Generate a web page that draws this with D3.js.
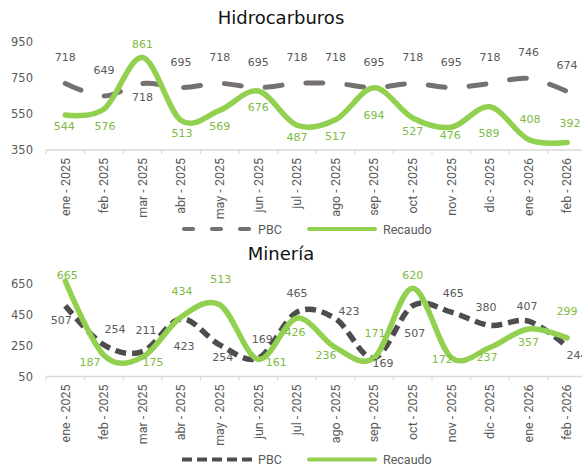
<!DOCTYPE html>
<html><head><meta charset="utf-8">
<script src="https://cdn.jsdelivr.net/npm/d3@7"></script>
<style>
html,body{margin:0;padding:0;background:#fff;}
svg{display:block;}
</style></head>
<body><svg id="chart" width="582" height="467"></svg>
<script>
// ---- data ----
const months = ["ene - 2025","feb - 2025","mar - 2025","abr - 2025","may - 2025","jun - 2025","jul - 2025","ago - 2025","sep - 2025","oct - 2025","nov - 2025","dic - 2025","ene - 2026","feb - 2026"];
const hidroPBC = [718, 649, 718, 695, 718, 695, 718, 718, 695, 718, 695, 718, 746, 674];
const hidroRec = [544, 576, 861, 513, 569, 676, 487, 517, 694, 527, 476, 589, 408, 392];
const minPBC   = [507, 254, 211, 423, 254, 169, 465, 423, 169, 507, 465, 380, 407, 244];
const minRec   = [665, 187, 175, 434, 513, 161, 426, 236, 171, 620, 172, 237, 357, 299];
const hidroTicks = [350, 550, 750, 950];
const minTicks = [50, 250, 450, 650];
const seriesNames = ["PBC", "Recaudo"];

// ---- layout (label offsets relative to points) ----
const hidroPBCOff = [[0,-26],[0,-26],[0,14],[0,-26],[0,-26],[0,-26],[0,-26],[0,-26],[0,-26],[0,-26],[0,-26],[0,-26],[0,-26],[0,-26]];
const hidroRecOff = [[-1,11],[1,17],[0,-14],[1,12.5],[0,15.6],[0,16],[0,12],[0,16],[0,27],[0,13],[-1,8],[-1,26],[1.5,-20.5],[3,-19.5]];
const minPBCOff = [[-4,14],[11,-16],[3.5,-22],[3,27],[3,12.4],[4,-19],[0,-19],[13.5,-7.7],[9,5],[2,27],[2,-19],[-4,-18.4],[-1.5,-15],[10,8.6]];
const minRecOff = [[2,-6],[-14,7],[10.5,5],[1,-26],[1,-25.7],[18,3],[-2,14],[-9.5,7],[1,-24.7],[0,-13],[-9,1.4],[-3,9.5],[0,13],[0,-27]];

const GREEN = "#92D050", GREEN_TXT = "#7DBB42", GRAY_TXT = "#595959";
const svg = d3.select("#chart");

const x = d3.scaleBand().domain(months).range([46, 46 + 38.6 * months.length]).padding(0);
const cx = m => x(m) + x.bandwidth() / 2;

function panel(cfg) {
  const g = svg.append("g");
  const y = d3.scaleLinear().domain(cfg.domain).range(cfg.range);
  const axisY = y(cfg.domain[0]);

  // title
  g.append("text").attr("x", 281).attr("y", cfg.titleY).attr("text-anchor", "middle")
    .attr("font-family", "DejaVu Sans").attr("font-size", 18).attr("fill", "#111").text(cfg.title);

  // y axis labels
  const ya = g.append("g").attr("transform", "translate(33,0)")
    .call(d3.axisLeft(y).tickValues(cfg.ticks).tickSize(0).tickPadding(0));
  ya.select(".domain").remove();
  ya.selectAll("text").attr("font-family", "DejaVu Sans").attr("font-size", 11.5).attr("fill", GRAY_TXT);

  // x axis
  const xa = g.append("g").attr("transform", `translate(0,${axisY})`)
    .call(d3.axisBottom(x).tickSize(0).tickPadding(0));
  xa.select(".domain").remove();
  xa.selectAll("text")
    .attr("font-family", "Roboto").attr("font-size", 12.5).attr("fill", GRAY_TXT)
    .attr("text-anchor", "end").attr("transform", "translate(0,8) rotate(-90)")
    .attr("x", 0).attr("y", 0).attr("dy", "0.35em");
  g.append("line").attr("x1", x.range()[0]).attr("x2", x.range()[1])
    .attr("y1", axisY).attr("y2", axisY).attr("stroke", "#d9d9d9").attr("stroke-width", 1.5);
  g.selectAll(".btick").data(months).join("line")
    .attr("x1", d => x(d)).attr("x2", d => x(d))
    .attr("y1", axisY).attr("y2", axisY + 4).attr("stroke", "#d9d9d9").attr("stroke-width", 1.2);

  const line = d3.line().x((d, i) => cx(months[i])).y(d => y(d)).curve(d3.curveCardinal.tension(0));

  g.append("path").datum(cfg.pbc).attr("d", line).attr("fill", "none")
    .attr("stroke", cfg.pbcColor).attr("stroke-width", cfg.pbcWidth)
    .attr("stroke-dasharray", cfg.pbcDash).attr("stroke-linecap", cfg.pbcCap);
  g.append("path").datum(cfg.rec).attr("d", line).attr("fill", "none")
    .attr("stroke", GREEN).attr("stroke-width", 5.5).attr("stroke-linecap", "round");

  // data labels
  g.selectAll(".lp").data(cfg.pbc).join("text")
    .attr("x", (d, i) => cx(months[i]) + cfg.pbcOff[i][0])
    .attr("y", (d, i) => y(d) + cfg.pbcOff[i][1]).attr("dy", "0.36em")
    .attr("text-anchor", "middle").attr("font-family", "DejaVu Sans").attr("font-size", 11)
    .attr("fill", GRAY_TXT).text(d => d);
  g.selectAll(".lr").data(cfg.rec).join("text")
    .attr("x", (d, i) => cx(months[i]) + cfg.recOff[i][0])
    .attr("y", (d, i) => y(d) + cfg.recOff[i][1]).attr("dy", "0.36em")
    .attr("text-anchor", "middle").attr("font-family", "DejaVu Sans").attr("font-size", 11)
    .attr("fill", GREEN_TXT).text(d => d);

  // legend
  const ly = cfg.legendY;
  g.append("line").attr("x1", cfg.legDash[0]).attr("x2", 252).attr("y1", ly).attr("y2", ly)
    .attr("stroke", cfg.pbcColor).attr("stroke-width", 4.2)
    .attr("stroke-dasharray", cfg.legDash[1]).attr("stroke-linecap", cfg.pbcCap);
  g.append("text").attr("x", 258).attr("y", ly).attr("dy", "0.36em")
    .attr("font-family", "Roboto").attr("font-size", 12.5).attr("fill", GRAY_TXT).text(seriesNames[0]);
  g.append("line").attr("x1", 309).attr("x2", 375).attr("y1", ly).attr("y2", ly)
    .attr("stroke", GREEN).attr("stroke-width", 4).attr("stroke-linecap", "round");
  g.append("text").attr("x", 383).attr("y", ly).attr("dy", "0.36em")
    .attr("font-family", "Roboto").attr("font-size", 12.5).attr("fill", GRAY_TXT).text(seriesNames[1]);
}

panel({
  title: "Hidrocarburos", titleY: 24, domain: [350, 950], range: [150, 41.5], ticks: hidroTicks,
  pbc: hidroPBC, rec: hidroRec, pbcOff: hidroPBCOff, recOff: hidroRecOff,
  pbcColor: "#767171", pbcWidth: 5, pbcDash: "17,24", pbcCap: "round",
  legendY: 229, legDash: [184, "9,19"]
});
panel({
  title: "Minería", titleY: 260, domain: [50, 650], range: [376.5, 283.5], ticks: minTicks,
  pbc: minPBC, rec: minRec, pbcOff: minPBCOff, recOff: minRecOff,
  pbcColor: "#4D4D4D", pbcWidth: 5.5, pbcDash: "11,6", pbcCap: "butt",
  legendY: 459.5, legDash: [182, "10,5"]
});
</script>
</body></html>
